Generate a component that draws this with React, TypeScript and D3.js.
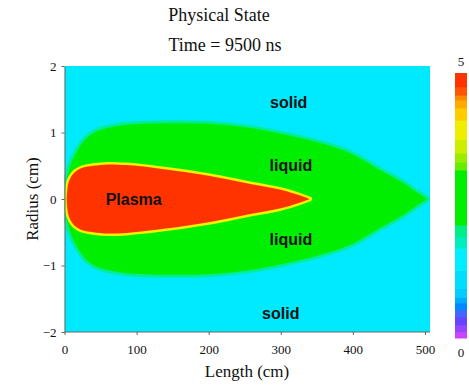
import React, { useRef, useEffect } from "react";
import * as d3 from "d3";

// boundary of the liquid zone: [length (cm), radius (cm)]
const liquidEdge: [number, number][] = [
  [0, 0.15], [3, 0.3], [8, 0.5], [14, 0.65], [22, 0.8], [32, 0.93], [45, 1.02],
  [65, 1.08], [90, 1.12], [150, 1.14], [200, 1.13], [256, 1.07], [300, 0.98],
  [348, 0.86], [394, 0.7], [440, 0.42], [470, 0.24], [486, 0.12], [503, 0],
];

// boundary of the plasma zone
const plasmaEdge: [number, number][] = [
  [3, 0], [5, 0.22], [9, 0.33], [15, 0.41], [25, 0.47], [40, 0.5], [60, 0.52],
  [86, 0.51], [130, 0.46], [200, 0.35], [256, 0.23], [300, 0.14], [325, 0.06], [340, 0],
];

const xTicks = [0, 100, 200, 300, 400, 500];
const yTicks = [-2, -1, 0, 1, 2];

// region labels: [text, length, radius]
const regionLabels: [string, number, number][] = [
  ["solid", 311, 1.45],
  ["liquid", 314, 0.5],
  ["Plasma", 96, 0],
  ["liquid", 314, -0.6],
  ["solid", 300, -1.72],
];

// colour bar bands: lower bound of each band (state value 0..5)
const bandStarts = [0, 0.11, 0.25, 0.4, 0.53, 0.66, 0.77, 0.94, 1.28, 1.7, 1.91, 2.13,
  3.17, 3.32, 3.49, 3.74, 4.11, 4.34, 4.49, 4.58, 4.74];
const bandColors = ["#cc44ff", "#9944ff", "#6644ff", "#4466ff", "#0088ff", "#00aaff",
  "#00ccff", "#00ddff", "#00eeff", "#00eebb", "#00ee88", "#00ee00", "#66ee00", "#99ee00",
  "#ccee00", "#eeee00", "#ffcc00", "#ffaa00", "#ff8800", "#ff5500", "#ff3300"];

const W = 469;
const H = 387;

const App = () => {
  const svgRef = useRef<SVGSVGElement>(null);

  useEffect(() => {
    const svg = d3.select(svgRef.current);
    svg.selectAll("*").remove();

    const serif = "'Liberation Serif', 'Times New Roman', serif";
    const sans = "'Liberation Sans', Arial, sans-serif";

    const x = d3.scaleLinear().domain([0, 507]).range([64.5, 430]);
    const y = d3.scaleLinear().domain([-2, 2]).range([332, 66]);

    svg.append("defs").append("clipPath").attr("id", "plotClip")
      .append("rect")
      .attr("x", x(0)).attr("y", y(2))
      .attr("width", x(507) - x(0)).attr("height", y(-2) - y(2));

    const plot = svg.append("g").attr("clip-path", "url(#plotClip)");

    // solid background
    plot.append("rect")
      .attr("x", x(0)).attr("y", y(2))
      .attr("width", x(507) - x(0)).attr("height", y(-2) - y(2))
      .attr("fill", "#00eaff");

    const area = d3.area<[number, number]>()
      .x((d) => x(d[0]))
      .y0((d) => y(-d[1]))
      .y1((d) => y(d[1]))
      .curve(d3.curveCatmullRom);

    // liquid with its thin transition band
    plot.append("path").attr("d", area(liquidEdge))
      .attr("fill", "#00ee99").attr("stroke", "#00ee99").attr("stroke-width", 6)
      .attr("stroke-linejoin", "round");
    plot.append("path").attr("d", area(liquidEdge)).attr("fill", "#00ee00");

    // plasma with yellow rim
    plot.append("path").attr("d", area(plasmaEdge))
      .attr("fill", "#f2f200").attr("stroke", "#f2f200").attr("stroke-width", 5)
      .attr("stroke-linejoin", "round");
    plot.append("path").attr("d", area(plasmaEdge)).attr("fill", "#ff3300");

    plot.selectAll(".region")
      .data(regionLabels)
      .enter()
      .append("text")
      .attr("x", (d) => x(d[1]))
      .attr("y", (d) => y(d[2]))
      .attr("dy", "0.35em")
      .attr("text-anchor", "middle")
      .attr("font-family", sans)
      .attr("font-weight", "bold")
      .attr("font-size", 16)
      .attr("fill", "#111")
      .text((d) => d[0]);

    // axes
    const xAxis = svg.append("g")
      .attr("transform", `translate(0,${y(-2)})`)
      .call(d3.axisBottom(x).tickValues(xTicks).tickSize(3).tickSizeOuter(0).tickPadding(10));
    const yAxis = svg.append("g")
      .attr("transform", `translate(${x(0)},0)`)
      .call(d3.axisLeft(y).tickValues(yTicks).tickSize(3).tickSizeOuter(0).tickPadding(5)
        .tickFormat((d) => String(d).replace("-", "\u2212")));

    [xAxis, yAxis].forEach((g) => {
      g.attr("font-family", serif).attr("font-size", 13);
      g.select(".domain").attr("stroke", "#666");
      g.selectAll(".tick line").attr("stroke", "#666");
      g.selectAll(".tick text").attr("fill", "#111");
    });
    xAxis.select(".domain").attr("d", `M${x(0)},0H${x(507)}`);

    svg.append("text")
      .attr("x", 247).attr("y", 377)
      .attr("text-anchor", "middle")
      .attr("font-family", serif).attr("font-size", 17).attr("fill", "#111")
      .text("Length (cm)");

    svg.append("text")
      .attr("transform", `translate(38,${(y(2) + y(-2)) / 2}) rotate(-90)`)
      .attr("text-anchor", "middle")
      .attr("font-family", serif).attr("font-size", 17).attr("fill", "#111")
      .text("Radius (cm)");

    // titles
    svg.append("text")
      .attr("x", 219).attr("y", 21)
      .attr("text-anchor", "middle")
      .attr("font-family", serif).attr("font-size", 18).attr("fill", "#111")
      .text("Physical State");
    svg.append("text")
      .attr("x", 225).attr("y", 51)
      .attr("text-anchor", "middle")
      .attr("font-family", serif).attr("font-size", 18).attr("fill", "#111")
      .text("Time = 9500 ns");

    // colour bar
    const c = d3.scaleLinear().domain([0, 5]).range([338, 73]);
    const bands = bandStarts.map((s, i) => ({
      from: s,
      to: i + 1 < bandStarts.length ? bandStarts[i + 1] : 5,
      color: bandColors[i],
    }));
    svg.selectAll(".band")
      .data(bands)
      .enter()
      .append("rect")
      .attr("x", 455)
      .attr("width", 12)
      .attr("y", (d) => c(d.to))
      .attr("height", (d) => c(d.from) - c(d.to) + 0.5)
      .attr("fill", (d) => d.color);

    svg.selectAll(".cbLabel")
      .data([0, 5])
      .enter()
      .append("text")
      .attr("x", 461)
      .attr("y", (d) => (d === 5 ? c(d) - 7 : c(d) + 19))
      .attr("text-anchor", "middle")
      .attr("font-family", serif).attr("font-size", 13).attr("fill", "#111")
      .text((d) => d);
  }, []);

  return (
    <svg
      ref={svgRef}
      width={W}
      height={H}
      style={{ position: "absolute", left: 0, top: 0, background: "#fff" }}
    ></svg>
  );
};

export default App;
